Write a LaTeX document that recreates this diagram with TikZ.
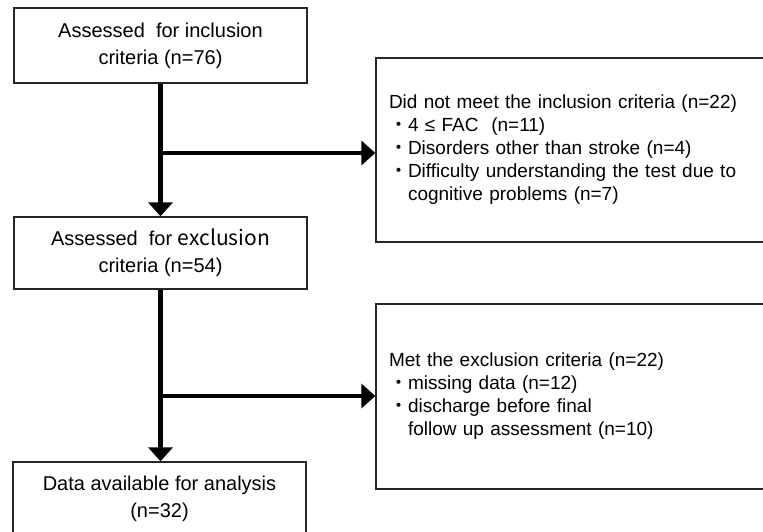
\documentclass[tikz,border=0pt]{standalone}
\usepackage{fontspec}
\setmainfont{Liberation Sans}
\newfontfamily\cjk{Noto Sans CJK JP}
\usetikzlibrary{arrows.meta}
\newcommand{\bul}{{\cjk ・}}

\begin{document}
\begin{tikzpicture}[x=1pt,y=-1pt,
			box node/.style={draw=black!85,line width=1.3pt,minimum width=293pt,minimum height=75pt,align=center,inner sep=0pt,font=\fontsize{20}{27}\selectfont},
			side node/.style={draw=black!85,line width=1.3pt,minimum width=404pt,minimum height=184pt,text width=378pt,align=left,inner xsep=13pt,font=\fontsize{19}{23}\selectfont},
			flow/.style={line width=4.5pt,-{Triangle[length=14pt,width=24pt]}}
			]
			
			\clip (0,0) rectangle (763,531);
			
			% left column
			\node[box node] at (160.5,45.5) (incl) {Assessed\ \ for inclusion\\criteria (n=76)};
			\node[box node,minimum height=72pt] at (160.5,253) (excl) {Assessed\ \ for {\cjk\fontsize{21}{27}\selectfont exclusion}\\criteria (n=54)};
			\node[box node,minimum height=74pt] at (159.5,499) (data) {Data available for analysis\\(n=32)};
			
			% right column
			\node[side node] at (578,150) (noincl) {Did not meet the inclusion criteria (n=22)\\
				\bul 4 ≤ FAC\ \ (n=11)\\
				\bul Disorders other than stroke (n=4)\\
				\bul Difficulty understanding the test due to\\
				\hphantom{\bul}cognitive problems (n=7)};
			\node[side node,minimum height=185pt] at (578,396.5) (met) {Met the exclusion criteria (n=22)\\
				\bul missing data (n=12)\\
				\bul discharge before final\\
				\hphantom{\bul}follow up assessment (n=10)};
			
			\coordinate (b1) at (160.5,153);
			\coordinate (b2) at (160.5,396);
			
			\draw[flow] (incl) -- (excl);
			\draw[flow] (b1) -- (b1 -| noincl.west);
			\draw[flow] (excl.south -| b2) -- (data.north -| b2);
			\draw[flow] (b2) -- (b2 -| met.west);
			\end{tikzpicture}
\end{document}
